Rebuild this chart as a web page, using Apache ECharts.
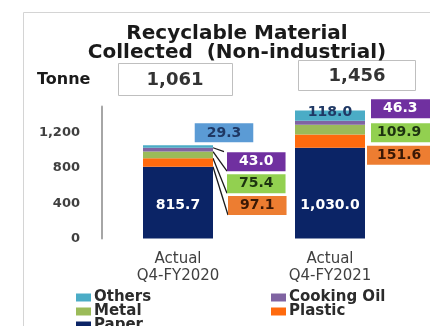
<!DOCTYPE html>
<html>
<head>
<meta charset="utf-8">
<script src="https://cdn.jsdelivr.net/npm/echarts@6/dist/echarts.min.js"></script>
<style>
html,body{margin:0;padding:0;background:#fff;}
#chart{width:430px;height:326px;}
</style>
</head>
<body>
<div id="chart"></div>
<script>
// ---- data ----
const categories = ['Actual\nQ4-FY2020', 'Actual\nQ4-FY2021'];
const seriesNames = ['Paper', 'Plastic', 'Metal', 'Cooking Oil', 'Others'];
const paper = [815.7, 1030.0];
const plastic = [97.1, 151.6];
const metal = [75.4, 109.9];
const cookingOil = [43.0, 46.3];
const others = [29.3, 118.0];
const totals = [1061, 1456];
const yTicks = [0, 400, 800, 1200];

// ---- styling ----
const FONT = 'DejaVu Sans';
const barColors = {
  'Paper': '#0b2466',
  'Plastic': '#ff6a0e',
  'Metal': '#9bbb59',
  'Cooking Oil': '#8064a2',
  'Others': '#4bacc6'
};
const fmt = v => v.toLocaleString('en-US', {minimumFractionDigits: 1, maximumFractionDigits: 1});
const fmtInt = v => v.toLocaleString('en-US');

function box(bg, color, padL, padR) {
  return {
    show: true,
    backgroundColor: bg,
    color: color,
    padding: [3, padR, 2, padL],
    fontSize: 14,
    lineHeight: 14,
    fontWeight: 'bold',
    fontFamily: FONT,
    formatter: p => fmt(p.value)
  };
}
const plainLabel = (color, offset) => ({
  show: true, position: 'inside', offset: offset, color: color,
  fontSize: 14, fontWeight: 'bold', fontFamily: FONT,
  formatter: p => fmt(p.value)
});
const line = {show: true, lineStyle: {color: '#1a1a1a', width: 1.3}};
const noLine = {show: false};

const dataItems = {
  'Paper': [
    {value: paper[0], label: plainLabel('#ffffff', [0, 3]), labelLine: noLine},
    {value: paper[1], label: plainLabel('#ffffff', [0, 12]), labelLine: noLine}
  ],
  'Plastic': [
    {value: plastic[0], label: Object.assign(box('#ed7d31', '#3a1805', 12, 12), {position: 'right', distance: 15, offset: [0, 43]}), labelLine: line},
    {value: plastic[1], label: Object.assign(box('#ed7d31', '#3a1805', 10, 14), {position: 'right', distance: 2, offset: [0, 14]}), labelLine: noLine}
  ],
  'Metal': [
    {value: metal[0], label: Object.assign(box('#92d050', '#1d3310', 12, 12), {position: 'right', distance: 14, offset: [0, 29]}), labelLine: line},
    {value: metal[1], label: Object.assign(box('#92d050', '#1d3310', 6, 14), {position: 'right', distance: 6, offset: [0, 3]}), labelLine: noLine}
  ],
  'Cooking Oil': [
    {value: cookingOil[0], label: Object.assign(box('#7030a0', '#ffffff', 12, 12), {position: 'right', distance: 14, offset: [0, 12]}), labelLine: line},
    {value: cookingOil[1], label: Object.assign(box('#7030a0', '#ffffff', 12, 14), {position: 'right', distance: 6, offset: [0, -14]}), labelLine: noLine}
  ],
  'Others': [
    {value: others[0], label: Object.assign(box('#5b9bd5', '#1f3864', 12, 12), {position: 'top', distance: 3, offset: [46, 0]}), labelLine: line},
    {value: others[1], label: plainLabel('#1f3864', [0, -3]), labelLine: noLine}
  ]
};

const series = seriesNames.map(name => ({
  name: name,
  type: 'bar',
  stack: 'total',
  barWidth: 70,
  itemStyle: {color: barColors[name]},
  data: dataItems[name]
}));

const legendBase = {
  orient: 'vertical', top: 290, height: 120, itemGap: -1, padding: 0,
  itemWidth: 15, itemHeight: 8, icon: 'rect',
  textStyle: {fontFamily: FONT, fontSize: 15, lineHeight: 14, fontWeight: 'bold', color: '#2b2b2b', padding: [0, 0, 0, -2]}
};

const chart = echarts.init(document.getElementById('chart'), null, {renderer: 'canvas'});
chart.setOption({
  animation: false,
  backgroundColor: '#ffffff',
  title: {
    text: 'Recyclable Material\nCollected  (Non-industrial)',
    left: 232,
    top: 19,
    textAlign: 'center',
    textStyle: {fontFamily: FONT, fontSize: 20, fontWeight: 'bold', color: '#1a1a1a', lineHeight: 19}
  },
  legend: [
    Object.assign({data: ['Others', 'Metal', 'Paper'], left: 76}, legendBase),
    Object.assign({data: ['Cooking Oil', 'Plastic'], left: 271}, legendBase)
  ],
  grid: {left: 102, right: 24, top: 106.5, bottom: 87.5, containLabel: false},
  xAxis: {
    type: 'category',
    data: categories,
    axisLine: {show: false},
    axisTick: {show: false},
    axisLabel: {fontFamily: FONT, fontSize: 15, lineHeight: 17, color: '#404040', margin: 12}
  },
  yAxis: {
    type: 'value',
    min: 0, max: 1500, interval: 400,
    splitLine: {show: false},
    axisTick: {show: false},
    axisLine: {show: true, lineStyle: {color: '#a6a6a6', width: 2}},
    axisLabel: {
      showMaxLabel: false,
      fontFamily: FONT, fontSize: 13, fontWeight: 'bold', color: '#404040', margin: 22,
      formatter: v => yTicks.indexOf(v) >= 0 ? fmtInt(v) : ''
    }
  },
  graphic: [
    {type: 'rect', z: -10, shape: {x: 23.5, y: 12.5, width: 500, height: 400}, style: {fill: 'none', stroke: '#d4d4d4', lineWidth: 1}},
    {type: 'text', x: 37, y: 80, style: {text: 'Tonne', verticalAlign: 'middle', fontFamily: FONT, fontSize: 16, fontWeight: 'bold', fill: '#1a1a1a'}},
    {type: 'rect', shape: {x: 118.5, y: 63.5, width: 114, height: 32}, style: {fill: '#fff', stroke: '#bfbfbf', lineWidth: 1}},
    {type: 'text', x: 175, y: 80, style: {text: fmtInt(totals[0]), align: 'center', verticalAlign: 'middle', fontFamily: FONT, fontSize: 18, fontWeight: 'bold', fill: '#333333'}},
    {type: 'rect', shape: {x: 298.5, y: 60.5, width: 117, height: 30}, style: {fill: '#fff', stroke: '#bfbfbf', lineWidth: 1}},
    {type: 'text', x: 357, y: 76, style: {text: fmtInt(totals[1]), align: 'center', verticalAlign: 'middle', fontFamily: FONT, fontSize: 18, fontWeight: 'bold', fill: '#333333'}}
  ],
  series: series
});
</script>
</body>
</html>
